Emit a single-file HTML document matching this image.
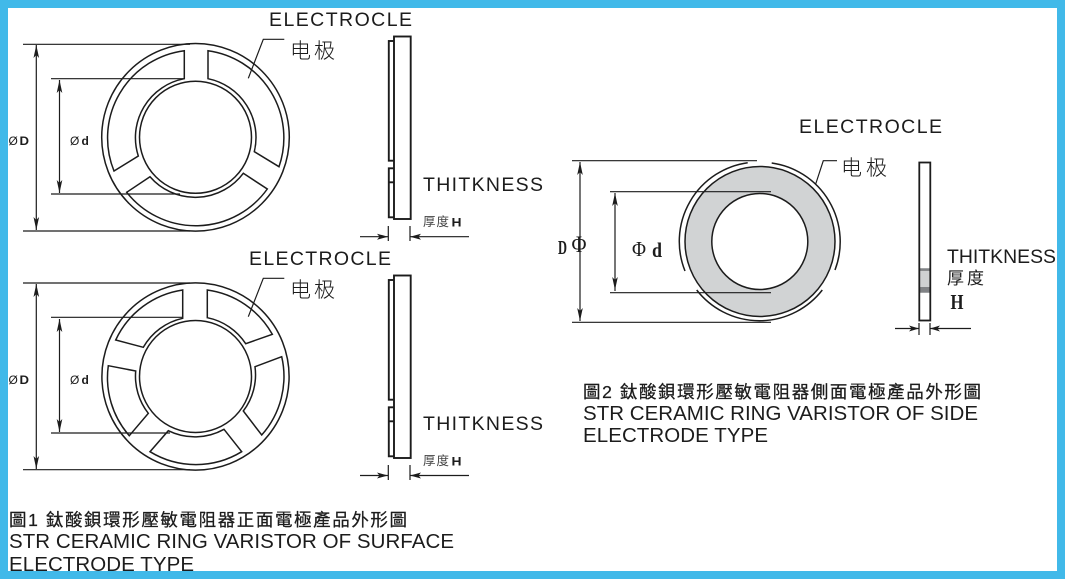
<!DOCTYPE html>
<html><head><meta charset="utf-8"><style>
html,body{margin:0;padding:0;background:#fff}
svg{display:block}
text{font-family:"Liberation Sans","Noto Sans CJK TC",sans-serif;fill:#1c1c1c}
.en{font-size:19.5px}
.cj{font-family:"Liberation Sans","Noto Sans CJK TC",sans-serif;font-size:16px}
.cap{stroke:#1c1c1c;stroke-width:.25px}
.dl{font-size:12px}
.b{font-weight:bold}
.s{font-family:"Liberation Serif","Noto Serif CJK SC",serif;font-weight:bold}
.l{fill:none;stroke:#1c1c1c;stroke-width:1.2}
.r{fill:none;stroke:#1c1c1c;stroke-width:1.5}
.t{fill:#fff;stroke:#1c1c1c;stroke-width:1.9}
.a{fill:#1c1c1c;stroke:none}
</style></head><body>
<svg width="1065" height="579" viewBox="0 0 1065 579" xmlns="http://www.w3.org/2000/svg">
<rect width="1065" height="579" fill="#fff"/>

<!-- Figure 1 top -->
<g class="r">
<circle cx="195.5" cy="137.3" r="93.8"/>
<circle cx="195.5" cy="137.3" r="56"/>
<path d="M184.3 50.7V78.7A60 60 0 0 0 138.3 156L114 171A88 88 0 0 1 184.3 50.7Z"/>
<path d="M208 50.7V78.7A60 60 0 0 1 254.3 151.7L279 166.7A88 88 0 0 0 208 50.7Z"/>
<path d="M126.7 192.3L150 176.7A60 60 0 0 0 243.3 173.3L267.3 189A88 88 0 0 1 126.7 192.3Z"/>
</g>
<path class="l" d="M23 44.3H190M23 231H190M51 78.7H184M51 194H180M36.3 45V230M59.5 80V193M248.3 78.3L263.3 39.3H284.3"/>
<path class="a" d="M36.3 45l-2.8 13 2.8-3 2.8 3zM36.3 230l-2.8-13 2.8 3 2.8-3zM59.5 80l-2.8 13 2.8-3 2.8 3zM59.5 193l-2.8-13 2.8 3 2.8-3z"/>

<!-- Figure 1 bottom -->
<g class="r">
<circle cx="195.5" cy="376.5" r="93.6"/>
<circle cx="195.5" cy="376.5" r="56"/>
<path d="M182.7 290V318.3A60 60 0 0 0 143.3 347.3L115.7 340A88 88 0 0 1 182.7 290Z"/>
<path d="M207.3 290V317.7A60 60 0 0 1 245.7 343.7L272.3 334.3A88 88 0 0 0 207.3 290Z"/>
<path d="M281.7 356.7L255 366.7A60 60 0 0 1 243.3 411L261.7 435A88 88 0 0 0 281.7 356.7Z"/>
<path d="M241.7 451.7L224 429.3A60 60 0 0 1 168.3 430.7L150 451.7A88 88 0 0 0 241.7 451.7Z"/>
<path d="M129.3 435.7L148.3 413.3A60 60 0 0 1 135.7 371L108.3 365.7A88 88 0 0 0 129.3 435.7Z"/>
</g>
<path class="l" d="M23 283H190M23 469.7H190M51 317.3H183M51 433H170M36.3 284V469M59.5 319V432M248.3 316.7L263.3 278.3H284.3"/>
<path class="a" d="M36.3 284l-2.8 13 2.8-3 2.8 3zM36.3 469l-2.8-13 2.8 3 2.8-3zM59.5 319l-2.8 13 2.8-3 2.8 3zM59.5 432l-2.8-13 2.8 3 2.8-3z"/>

<!-- Side views fig.1 -->
<g>
<rect class="t" x="388.8" y="41" width="5.5" height="119.7"/>
<rect class="t" x="388.8" y="168.3" width="5.5" height="49"/>
<path class="t" d="M388.8 182.3H394"/>
<rect class="t" x="394" y="36.5" width="16.7" height="182.5"/>
<path class="l" d="M388.3 226V241M410 226V241M360 236.7H388M410 236.7H469"/>
<path class="a" d="M388 236.7l-11-3 2.5 3-2.5 3zM410 236.7l11-3-2.5 3 2.5 3z"/>
</g>
<g>
<rect class="t" x="388.8" y="280" width="5.5" height="119.7"/>
<rect class="t" x="388.8" y="407.3" width="5.5" height="49"/>
<path class="t" d="M388.8 421.3H394"/>
<rect class="t" x="394" y="275.5" width="16.7" height="182.5"/>
<path class="l" d="M388.3 465V480M410 465V480M360 475.5H388M410 475.5H469"/>
<path class="a" d="M388 475.5l-11-3 2.5 3-2.5 3zM410 475.5l11-3-2.5 3 2.5 3z"/>
</g>

<!-- Figure 2 ring -->
<path fill-rule="evenodd" fill="#d1d3d4" stroke="#1c1c1c" stroke-width="1.5" d="M685 241.5a75 75 0 1 0 150 0a75 75 0 1 0-150 0ZM711.8 241.5a48 48 0 1 0 96 0a48 48 0 1 0-96 0Z"/>
<g class="r">
<path d="M747.7 162.7A79.5 79.5 0 0 0 685 271"/>
<path d="M771.7 163A79.5 79.5 0 0 1 835 270"/>
<path d="M696.7 290A79.5 79.5 0 0 0 822.3 290"/>
</g>
<path class="l" d="M572 160.7H757M572 322.3H771M610 191.7H771M610 292.7H771M580 162V321M615 193V291M815.7 184L823.3 160.7H837"/>
<path class="a" d="M580 162l-2.8 13 2.8-3 2.8 3zM580 321l-2.8-13 2.8 3 2.8-3zM615 193l-2.8 13 2.8-3 2.8 3zM615 290l-2.8-13 2.8 3 2.8-3z"/>

<!-- Figure 2 side view -->
<rect x="920" y="268.3" width="10" height="24.4" fill="#cfd1d2"/>
<rect x="920" y="268.3" width="10" height="2.6" fill="#808285"/>
<rect x="920" y="287" width="10" height="5.7" fill="#808285"/>
<rect x="919.3" y="162.5" width="11" height="158" fill="none" stroke="#1c1c1c" stroke-width="1.8"/>
<path class="l" d="M919 323V335M930 323V335M895 328.5H919M930 328.5H971"/>
<path class="a" d="M919 328.5l-10-3 2.5 3-2.5 3zM930 328.5l10-3-2.5 3 2.5 3z"/>

<!-- Labels fig.1 -->
<text class="en" x="269" y="26" textLength="143" lengthAdjust="spacing">ELECTROCLE</text>
<text class="cj" x="290" y="58" style="font-size:21px;font-weight:300" textLength="45" lengthAdjust="spacing">电极</text>
<text class="en" x="423" y="191" textLength="120" lengthAdjust="spacing">THITKNESS</text>
<text class="cj" x="423" y="226" style="font-size:12.5px;fill:#444" textLength="26" lengthAdjust="spacing">厚度</text>
<text class="dl b" x="451.5" y="226.5" textLength="10" lengthAdjust="spacingAndGlyphs">H</text>
<text class="dl" x="8.5" y="145">Ø</text>
<text class="dl b" x="19.5" y="145" textLength="9.5" lengthAdjust="spacingAndGlyphs">D</text>
<text class="dl" x="70" y="145">Ø</text>
<text class="dl b" x="81.5" y="145">d</text>

<text class="en" x="249" y="265" textLength="142" lengthAdjust="spacing">ELECTROCLE</text>
<text class="cj" x="290" y="297" style="font-size:21px;font-weight:300" textLength="45" lengthAdjust="spacing">电极</text>
<text class="en" x="423" y="430" textLength="120" lengthAdjust="spacing">THITKNESS</text>
<text class="cj" x="423" y="465" style="font-size:12.5px;fill:#444" textLength="26" lengthAdjust="spacing">厚度</text>
<text class="dl b" x="451.5" y="465.5" textLength="10" lengthAdjust="spacingAndGlyphs">H</text>
<text class="dl" x="8.5" y="384">Ø</text>
<text class="dl b" x="19.5" y="384" textLength="9.5" lengthAdjust="spacingAndGlyphs">D</text>
<text class="dl" x="70" y="384">Ø</text>
<text class="dl b" x="81.5" y="384">d</text>

<!-- Labels fig.2 -->
<text class="en" x="799" y="133" textLength="143" lengthAdjust="spacing">ELECTROCLE</text>
<text class="cj" x="841" y="175" style="font-size:21px;font-weight:300" textLength="46" lengthAdjust="spacing">电极</text>
<text class="s" x="558" y="254" style="font-size:20px" textLength="9" lengthAdjust="spacingAndGlyphs">D</text>
<text class="s" x="571.5" y="252" style="font-size:23px;font-weight:normal" textLength="15" lengthAdjust="spacingAndGlyphs">Φ</text>
<text class="s" x="632" y="256" style="font-size:21px;font-weight:normal" textLength="14" lengthAdjust="spacingAndGlyphs">Φ</text>
<text class="s" x="652" y="257" style="font-size:21px" textLength="10" lengthAdjust="spacingAndGlyphs">d</text>
<text class="en" x="947" y="263" textLength="109" lengthAdjust="spacingAndGlyphs">THITKNESS</text>
<text class="cj" x="947" y="284" textLength="37" lengthAdjust="spacing" style="font-size:17px">厚度</text>
<text class="s" x="950.5" y="309" style="font-size:21px" textLength="13" lengthAdjust="spacingAndGlyphs">H</text>

<!-- Captions -->
<text class="cj cap" x="9" y="526" textLength="398" lengthAdjust="spacing" style="font-size:17.5px">圖1 鈦酸鋇環形壓敏電阻器正面電極產品外形圖</text>
<text x="9" y="548" style="font-size:20.5px" textLength="445" lengthAdjust="spacing">STR CERAMIC RING VARISTOR OF SURFACE</text>
<text x="9" y="571" style="font-size:20.5px" textLength="185" lengthAdjust="spacing">ELECTRODE TYPE</text>

<text class="cj cap" x="583" y="398" textLength="398" lengthAdjust="spacing" style="font-size:17.5px">圖2 鈦酸鋇環形壓敏電阻器側面電極產品外形圖</text>
<text x="583" y="420" style="font-size:20.5px" textLength="395" lengthAdjust="spacing">STR CERAMIC RING VARISTOR OF SIDE</text>
<text x="583" y="442" style="font-size:20.5px" textLength="185" lengthAdjust="spacing">ELECTRODE TYPE</text>

<!-- Blue frame -->
<path fill="#41b9e9" fill-rule="evenodd" d="M0 0H1065V579H0ZM8 8V571H1057V8Z"/>
</svg>
</body></html>
